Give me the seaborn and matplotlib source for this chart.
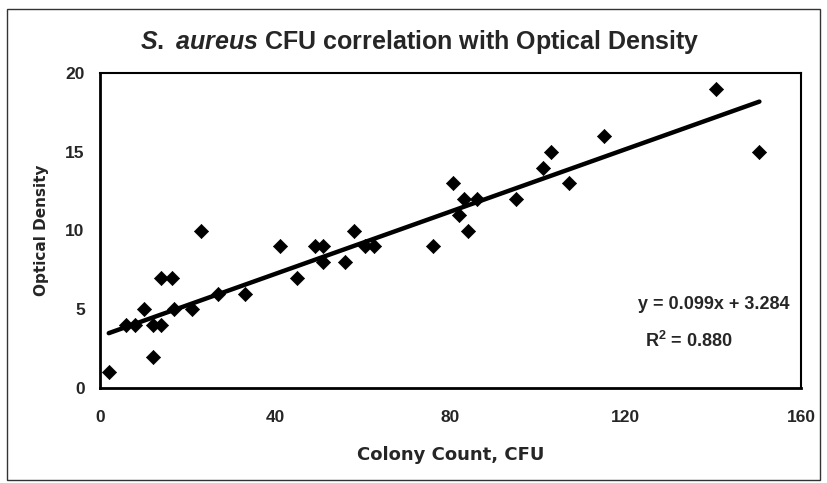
import numpy as np
import pandas as pd
import matplotlib
matplotlib.use("Agg")
import matplotlib.pyplot as plt
from matplotlib.patches import Rectangle
from matplotlib.ticker import MultipleLocator
import seaborn as sns

sns.set_style("white")
plt.rcParams["font.family"] = ["Liberation Sans", "DejaVu Sans"]
plt.rcParams["mathtext.fontset"] = "custom"
plt.rcParams["mathtext.it"] = "Liberation Sans:italic:bold"
plt.rcParams["mathtext.rm"] = "Liberation Sans:bold"

# data
cfu = [2, 6, 8, 10, 12, 12, 14, 14, 16.5, 17, 21, 23, 27, 33, 41, 45, 49, 51, 51,
       56, 58, 60.5, 62.5, 76, 80.5, 82, 83, 84, 86, 95, 101, 103, 107, 115, 140.5, 150.5]
od = [1, 4, 4, 5, 2, 4, 4, 7, 7, 5, 5, 10, 6, 6, 9, 7, 9, 9, 8,
      8, 10, 9, 9, 9, 13, 11, 12, 10, 12, 12, 14, 15, 13, 16, 19, 15]
slope = 0.099
intercept = 3.284
r2 = 0.880

df = pd.DataFrame({"cfu": cfu, "od": od})
fit = pd.DataFrame({"cfu": [min(cfu), max(cfu)]})
fit["od"] = slope * fit["cfu"] + intercept

fig = plt.figure(figsize=(8.28, 4.83), dpi=100)
ax = fig.add_axes([100 / 828, 1 - 388 / 483, 701 / 828, 315 / 483])

sns.lineplot(data=fit, x="cfu", y="od", ax=ax, color="black", linewidth=3.2,
             solid_capstyle="round")
sns.scatterplot(data=df, x="cfu", y="od", ax=ax, marker="D", s=52,
                color="black", edgecolor="black", linewidth=0.5, zorder=3)

ax.set_xlim(0, 160)
ax.set_ylim(0, 20)
ax.xaxis.set_major_locator(MultipleLocator(40))
ax.xaxis.set_minor_locator(MultipleLocator(10))
ax.yaxis.set_major_locator(MultipleLocator(5))
ax.yaxis.set_minor_locator(MultipleLocator(1))
ax.tick_params(axis="both", which="major", direction="inout", length=10, width=1.3,
               labelsize=12.5, color="black")
ax.tick_params(axis="x", which="major", pad=11)
ax.tick_params(axis="y", which="major", pad=6)
ax.tick_params(axis="both", which="minor", direction="out", length=5, width=1.1,
               color="black")
for lab in ax.get_xticklabels() + ax.get_yticklabels():
    lab.set_fontweight("bold")
for side in ["left", "bottom"]:
    ax.spines[side].set_linewidth(2.0)
for side in ["top", "right"]:
    ax.spines[side].set_linewidth(1.5)
for sp in ax.spines.values():
    sp.set_color("black")

ax.set_xlabel("Colony Count, CFU", fontsize=13, fontweight="bold",
              family="DejaVu Sans", labelpad=15)
ax.set_ylabel("Optical Density", fontsize=11, fontweight="bold",
              family="DejaVu Sans", labelpad=12)
fig.text(420 / 828, 1 - 42 / 483,
         r"$\it{S.\ aureus}$ CFU correlation with Optical Density",
         fontsize=18, fontweight="bold", ha="center", va="center")

ax.text(0.983, 0.265, f"y = {slope:.3f}x + {intercept:.3f}", transform=ax.transAxes,
        ha="right", va="center", fontsize=13, fontweight="bold")
ax.text(0.84, 0.15, f"R$^2$ = {r2:.3f}", transform=ax.transAxes,
        ha="center", va="center", fontsize=13, fontweight="bold")

fig.patches.append(Rectangle((7 / 828, 3 / 483), 813 / 828, 471 / 483,
                             transform=fig.transFigure, fill=False,
                             edgecolor="#333333", linewidth=1))

fig.savefig("out.png", dpi=100)
